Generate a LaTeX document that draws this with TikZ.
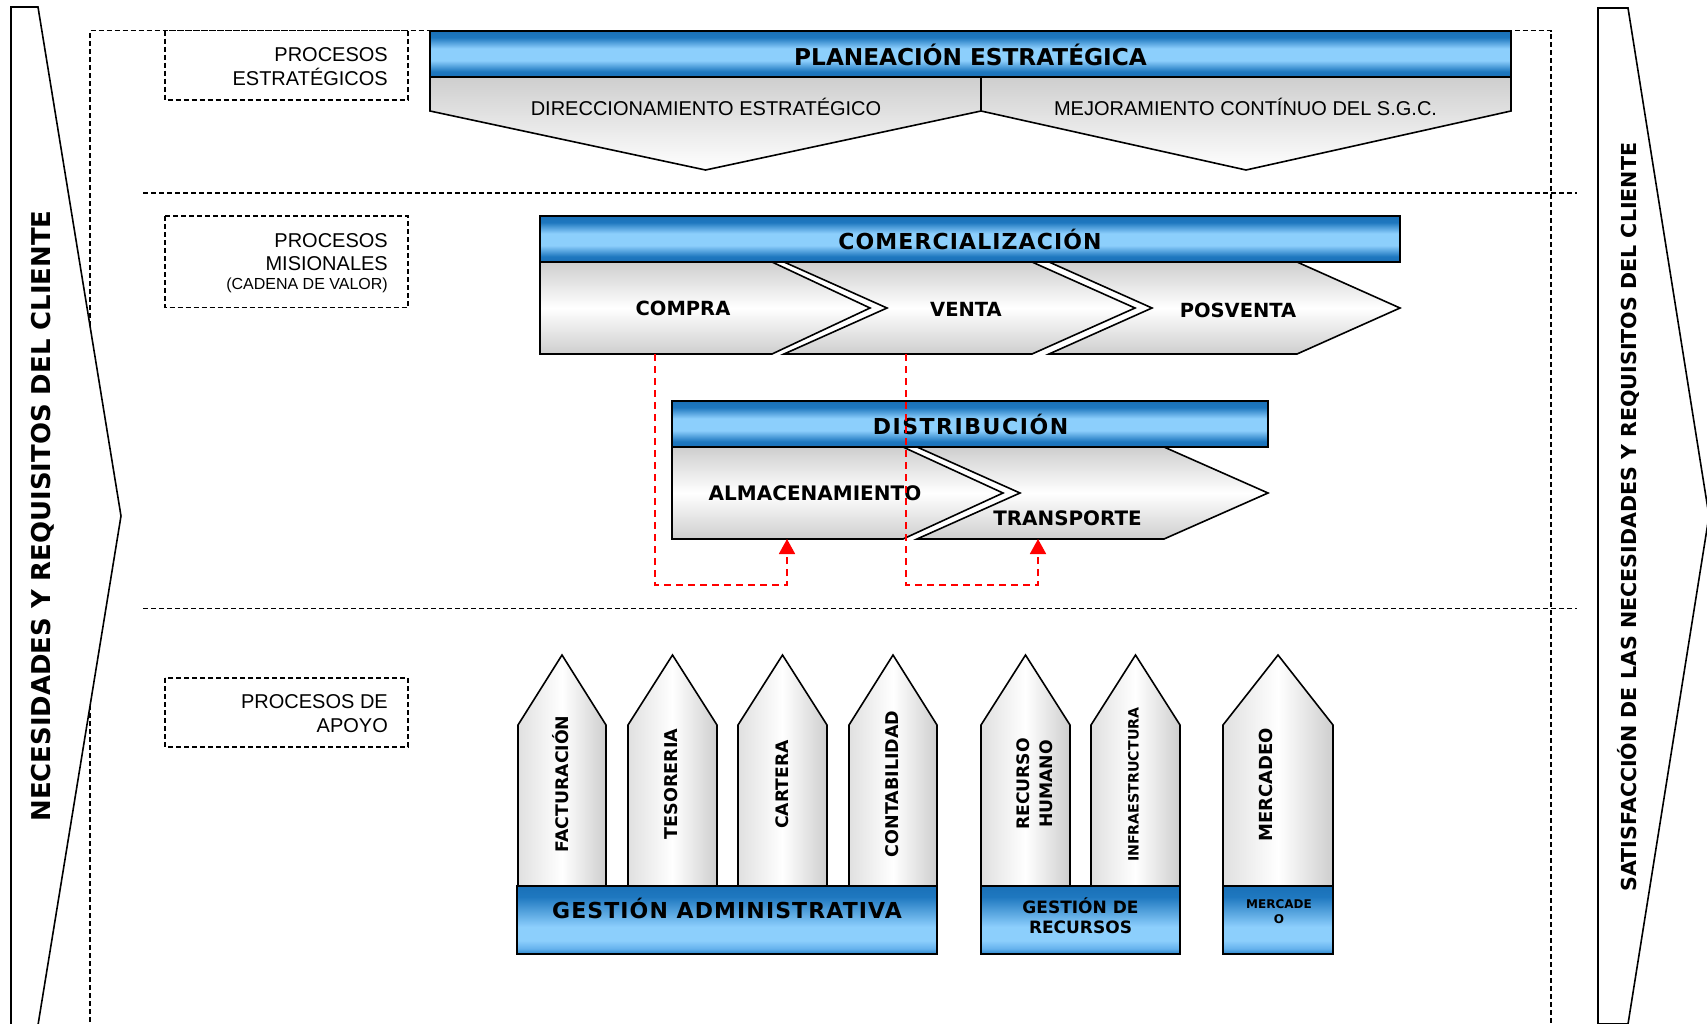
\documentclass[tikz,border=0pt]{standalone}
\usepackage{fontspec}
\setmainfont{Liberation Sans}
\newfontfamily\vbfont{DejaVu Sans}
\usetikzlibrary{arrows.meta}
\definecolor{blueD}{RGB}{28,118,188}
\definecolor{blueL}{RGB}{140,206,252}
\definecolor{greyA}{RGB}{206,206,206}
\definecolor{greyB}{RGB}{224,224,224}
\definecolor{redL}{RGB}{255,0,0}
\pgfdeclareverticalshading{barshade}{100bp}{rgb(0bp)=(0.10,0.44,0.72); rgb(25bp)=(0.10,0.44,0.72); rgb(31bp)=(0.12,0.47,0.75); rgb(43bp)=(0.55,0.81,0.99); rgb(56bp)=(0.55,0.81,0.99); rgb(68bp)=(0.12,0.47,0.75); rgb(75bp)=(0.10,0.44,0.72); rgb(100bp)=(0.10,0.44,0.72)}
\pgfdeclareverticalshading{gestshade}{100bp}{rgb(0bp)=(0.16,0.52,0.80); rgb(25bp)=(0.16,0.52,0.80); rgb(29bp)=(0.40,0.70,0.93); rgb(35bp)=(0.55,0.81,0.99); rgb(45bp)=(0.55,0.81,0.99); rgb(67bp)=(0.12,0.47,0.75); rgb(75bp)=(0.10,0.44,0.72); rgb(100bp)=(0.10,0.44,0.72)}
\newcommand\fsz[2]{\vbfont\fontsize{#1}{#1}\selectfont\bfseries\addfontfeatures{LetterSpace=#2}}
\newcommand\fsn[1]{\vbfont\fontsize{#1}{#1}\selectfont\bfseries}
\begin{document}
\begin{tikzpicture}[x=1pt,y=-1pt,
  outl/.style={draw=black, line width=1.6pt, line join=miter},
  dashblk/.style={draw=black, line width=1.2pt, dash pattern=on 5pt off 3pt},
  bluebar/.style={outl, shade, shading=barshade},
  gestbar/.style={outl, shade, shading=gestshade},
  greychev/.style={outl, top color=greyA, bottom color=greyA, middle color=white},
  plchev/.style={outl, top color=greyA, bottom color=white},
  pillar/.style={outl, left color=greyB, right color=greyA, middle color=white},
  reddash/.style={draw=redL, line width=1.8pt, dash pattern=on 7pt off 5pt, -{Triangle[width=16pt,length=15pt,fill=redL]}},
  lbl/.style={font=\fontsize{20}{24}\selectfont, inner sep=0pt, anchor=base east},
  reg/.style={font=\fontsize{20}{24}\selectfont, inner sep=0pt, anchor=base},
  bt/.style={inner sep=0pt, anchor=base},
  rt/.style={inner sep=0pt, anchor=center, rotate=90, text height=0.73em, text depth=0pt}
]
\useasboundingbox (0,0) rectangle (1707,1023);
\clip (0,0) rectangle (1707,1023);
\fill[white] (0,0) rectangle (1707,1023);

% outer dashed frame and separators
\draw[dashblk] (90,1030) -- (90,30.7) -- (1551,30.7) -- (1551,1030);
\draw[dashblk] (143,193) -- (1577,193);
\draw[dashblk] (143,608.6) -- (1577,608.6);

% side arrows
\path[outl, fill=white] (11,7) -- (38,7) -- (121,516) -- (38,1025) -- (11,1025) -- cycle;
\path[outl, fill=white] (1598,8) -- (1628,8) -- (1709,516) -- (1628,1024) -- (1598,1024) -- cycle;
\node[rt, font=\fsn{25.9}] (necesidades) at (47.2,516) {NECESIDADES Y REQUISITOS DEL CLIENTE};
\node[rt, font=\fsn{20.6}] (satisfaccion) at (1632.5,517) {SATISFACCIÓN DE LAS NECESIDADES Y REQUISITOS DEL CLIENTE};

% label boxes
\draw[dashblk] (165,30.7) rectangle (408,100);
\draw[dashblk] (165,216) rectangle (408,307.3);
\draw[dashblk] (165,678) rectangle (408,747);
\node[lbl] (pe1) at (388,61) {PROCESOS};
\node[lbl] (pe2) at (388,85) {ESTRATÉGICOS};
\node[lbl] (pm1) at (388,247) {PROCESOS};
\node[lbl] (pm2) at (388,270) {MISIONALES};
\node[lbl, font=\fontsize{16}{19}\selectfont] (pm3) at (388,289) {(CADENA DE VALOR)};
\node[lbl] (pa1) at (388,708) {PROCESOS DE};
\node[lbl] (pa2) at (388,732) {APOYO};

% planeacion estrategica
\path[plchev] (430,77) -- (981,77) -- (981,111) -- (705.5,170) -- (430,111) -- cycle;
\path[plchev] (981,77) -- (1511,77) -- (1511,111) -- (1246,170) -- (981,111) -- cycle;
\path[bluebar] (430,31) rectangle (1511,77);
\node[bt, font=\fsn{23.2}] (planeacion) at (970.5,65) {PLANEACIÓN ESTRATÉGICA};
\node[reg] (direcc) at (706,115) {DIRECCIONAMIENTO ESTRATÉGICO};
\node[reg] (mejora) at (1245.5,115) {MEJORAMIENTO CONTÍNUO DEL S.G.C.};

% comercializacion
\path[greychev] (540,262) -- (772,262) -- (870,308) -- (772,354) -- (540,354) -- cycle;
\path[greychev] (784,262) -- (1032,262) -- (1135,308) -- (1032,354) -- (784,354) -- (887,308) -- cycle;
\path[greychev] (1049,262) -- (1297,262) -- (1400,308) -- (1297,354) -- (1049,354) -- (1152,308) -- cycle;
\path[bluebar] (540,216) rectangle (1400,262);
\node[bt, font=\fsz{22}{5}] (comerc) at (970,249) {COMERCIALIZACIÓN};
\node[bt, font=\fsn{19.5}] (compra) at (683,315) {COMPRA};
\node[bt, font=\fsn{19.5}] (venta) at (966,316.5) {VENTA};
\node[bt, font=\fsn{19.5}] (posventa) at (1238,317) {POSVENTA};

% distribucion
\path[greychev] (672,447) -- (903,447) -- (1003,493) -- (903,539) -- (672,539) -- cycle;
\path[greychev] (917,447) -- (1164,447) -- (1268,493) -- (1164,539) -- (917,539) -- (1020,493) -- cycle;
\path[bluebar] (672,401) rectangle (1268,447);
\node[bt, font=\fsz{22}{7}] (distrib) at (970.5,434) {DISTRIBUCIÓN};
\node[bt, font=\fsn{20}] (almac) at (815,500) {ALMACENAMIENTO};
\node[bt, font=\fsn{19.9}] (transp) at (1067.5,525) {TRANSPORTE};

% red connectors
\coordinate (compraB) at (655,354);
\coordinate (almB) at (787,539);
\coordinate (ventaB) at (906,354);
\coordinate (transB) at (1038,539);
\draw[reddash] (compraB) -- ++(0,231) -| (almB);
\draw[reddash] (ventaB) -- ++(0,231) -| (transB);

% support pillars
\path[pillar] (518,886) -- (518,725) -- (562,655) -- (606,725) -- (606,886) -- cycle;
\path[pillar] (628,886) -- (628,725) -- (672.5,655) -- (717,725) -- (717,886) -- cycle;
\path[pillar] (738,886) -- (738,725) -- (782.5,655) -- (827,725) -- (827,886) -- cycle;
\path[pillar] (849,886) -- (849,725) -- (893,655) -- (937,725) -- (937,886) -- cycle;
\path[pillar] (981,886) -- (981,725) -- (1025.5,655) -- (1070,725) -- (1070,886) -- cycle;
\path[pillar] (1091,886) -- (1091,725) -- (1135.5,655) -- (1180,725) -- (1180,886) -- cycle;
\path[pillar] (1223,886) -- (1223,725) -- (1278,655) -- (1333,725) -- (1333,886) -- cycle;
\node[rt, font=\fsn{17.3}] (fact) at (565,784) {FACTURACIÓN};
\node[rt, font=\fsn{17.6}] (teso) at (674,784) {TESORERIA};
\node[rt, font=\fsn{17.2}] (cart) at (784.7,784.5) {CARTERA};
\node[rt, font=\fsn{17.5}] (conta) at (894.7,784) {CONTABILIDAD};
\node[rt, font=\fsn{17.2}] (recurso) at (1026,784) {RECURSO};
\node[rt, font=\fsn{17.2}] (humano) at (1049,784) {HUMANO};
\node[rt, font=\fsn{14.2}] (infra) at (1135,784.7) {INFRAESTRUCTURA};
\node[rt, font=\fsn{18}] (merc) at (1269,785) {MERCADEO};

\path[gestbar] (517,886) rectangle (937,954);
\path[gestbar] (981,886) rectangle (1180,954);
\path[gestbar] (1223,886) rectangle (1333,954);
\node[bt, font=\fsz{22}{5}] (gadm) at (727,918) {GESTIÓN ADMINISTRATIVA};
\node[bt, font=\fsn{17}] (grec1) at (1080.5,913.3) {GESTIÓN DE};
\node[bt, font=\fsn{17}] (grec2) at (1080.5,933.3) {RECURSOS};
\node[bt, font=\fsn{12}] (gmer1) at (1279,908.3) {MERCADE};
\node[bt, font=\fsn{12}] (gmer2) at (1279,923.3) {O};
\end{tikzpicture}
\end{document}
